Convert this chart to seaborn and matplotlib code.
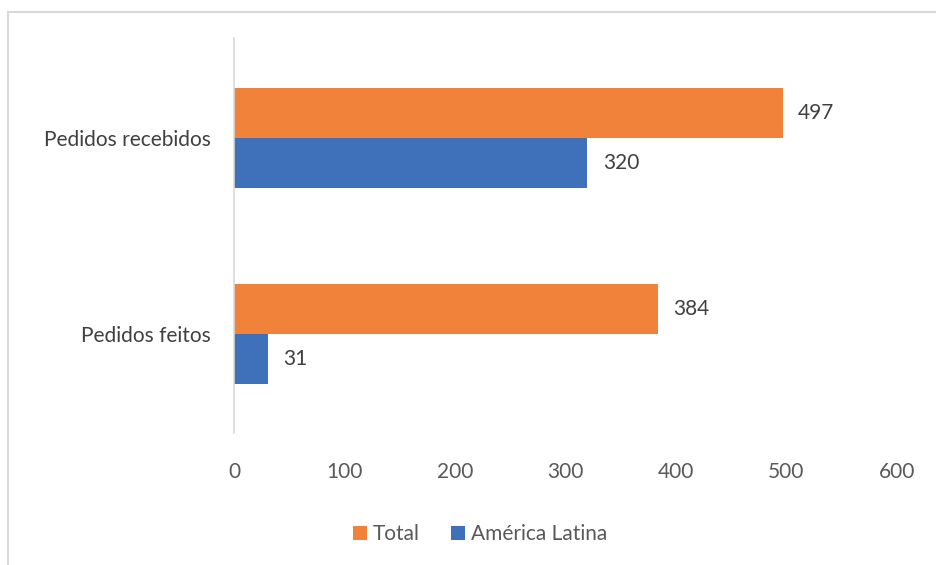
import matplotlib
matplotlib.use("Agg")
import matplotlib.pyplot as plt
from matplotlib.lines import Line2D
import seaborn as sns
import pandas as pd

categories = ["Pedidos recebidos", "Pedidos feitos"]
series = ["Total", "América Latina"]
total_values = [497, 384]
latam_values = [320, 31]
x_ticks = [0, 100, 200, 300, 400, 500, 600]

df = pd.DataFrame({
    "Categoria": categories * 2,
    "Série": [series[0]] * len(categories) + [series[1]] * len(categories),
    "Valor": total_values + latam_values,
})

sns.set_theme(style="white")
plt.rcParams["font.family"] = ["Lato", "DejaVu Sans"]

fig = plt.figure(figsize=(9.36, 5.65), dpi=100)
ax = fig.add_axes([0.25, 0.2336, 0.708, 0.699])

palette = {"Total": "#F0823A", "América Latina": "#3F71BB"}
sns.barplot(data=df, y="Categoria", x="Valor", hue="Série", order=categories,
            hue_order=series, palette=palette, orient="h", width=0.51,
            saturation=1, linewidth=0, ax=ax, legend=True)

for cont in ax.containers:
    ax.bar_label(cont, padding=11, fontsize=15, color="#404040")

ax.set_xlim(0, 600)
ax.set_ylim(1.505, -0.51)
ax.set_xticks(x_ticks)
ax.set_xticklabels([str(t) for t in x_ticks])
ax.tick_params(axis="x", length=0, pad=21, labelsize=15, labelcolor="#595959")
ax.tick_params(axis="y", length=0, pad=17, labelsize=15, labelcolor="#404040")
ax.set_xlabel("")
ax.set_ylabel("")
for s in ["top", "right", "bottom"]:
    ax.spines[s].set_visible(False)
ax.spines["left"].set_color("#D9D9D9")
ax.spines["left"].set_linewidth(1.2)

leg = ax.get_legend()
handles = leg.legend_handles
leg.remove()
fig.legend(handles, series, loc="center", bbox_to_anchor=(0.513, 0.055), ncol=2,
           frameon=False, fontsize=15, handlelength=0.65, handleheight=0.65,
           handletextpad=0.3, columnspacing=1.5, labelcolor="#595959")

# outer chart border (top and left visible)
fig.add_artist(Line2D([8/936, 1.0], [1 - 12/565, 1 - 12/565], transform=fig.transFigure,
                      color="#D9D9D9", linewidth=1.5))
fig.add_artist(Line2D([8/936, 8/936], [0.0, 1 - 12/565], transform=fig.transFigure,
                      color="#D9D9D9", linewidth=1.5))

fig.savefig("out.png", dpi=100, facecolor="white")
